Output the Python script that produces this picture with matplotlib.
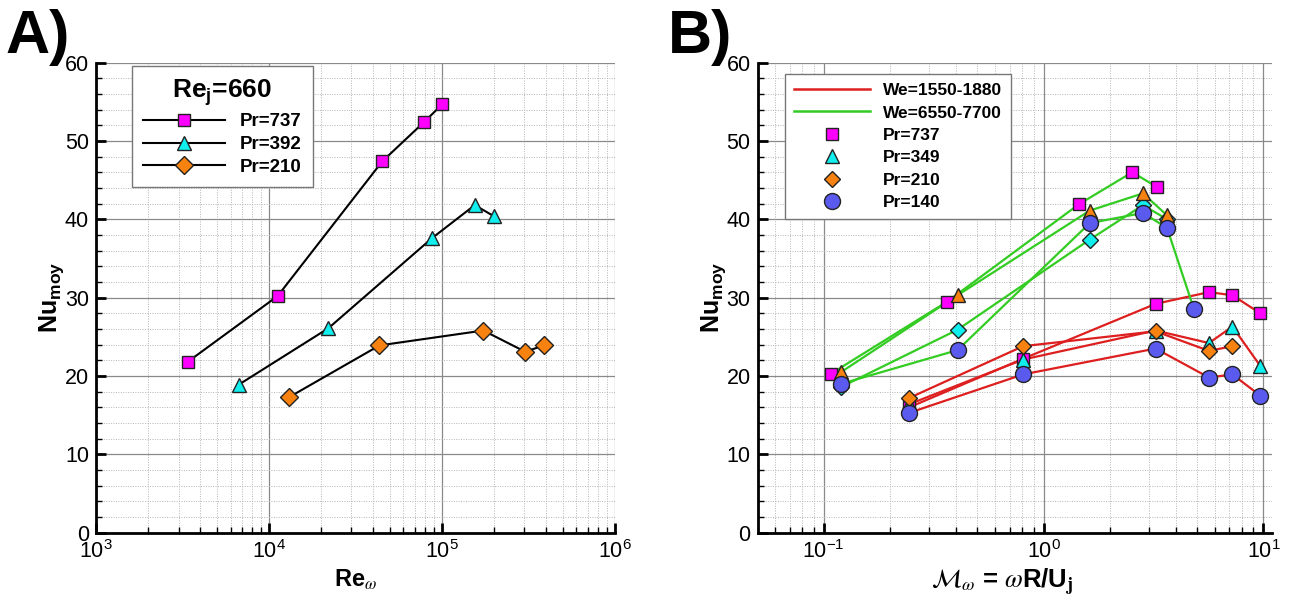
import matplotlib
matplotlib.use("Agg")
import matplotlib.pyplot as plt
from matplotlib.lines import Line2D
from matplotlib.ticker import LogLocator, MultipleLocator, NullFormatter

# ── Panel A: Nu_moy vs Re_omega (Re_j = 660) ─────────────
rew_737 = [3390, 11230, 45300, 78900, 100900]
nu_a737 = [21.8, 30.2, 47.4, 52.4, 54.7]
rew_392 = [6700, 22100, 87900, 155000, 199600]
nu_a392 = [18.9, 26.1, 37.6, 41.8, 40.4]
rew_210 = [13100, 43600, 173800, 303000, 391000]
nu_a210 = [17.3, 23.9, 25.8, 23.1, 23.9]

# ── Panel B: Nu_moy vs M_omega, two Weber ranges ─────────
# We = 1550-1880 (red)
mw_lo_737 = [0.245, 0.807, 3.23, 5.65, 7.22, 9.66]
nu_lo_737 = [16.0, 22.2, 29.2, 30.7, 30.3, 28.0]
mw_lo_349 = [0.245, 0.807, 3.23, 5.65, 7.22, 9.66]
nu_lo_349 = [16.4, 22.1, 25.8, 24.2, 26.3, 21.3]
mw_lo_210 = [0.245, 0.807, 3.23, 5.65, 7.22]
nu_lo_210 = [17.2, 23.8, 25.7, 23.2, 23.8]
mw_lo_140 = [0.245, 0.807, 3.23, 5.65, 7.22, 9.66]
nu_lo_140 = [15.3, 20.2, 23.5, 19.8, 20.2, 17.5]
# We = 6550-7700 (green)
mw_hi_737 = [0.108, 0.365, 1.445, 2.53, 3.28]
nu_hi_737 = [20.3, 29.5, 41.9, 46.0, 44.1]
mw_hi_349 = [0.12, 0.406, 1.62, 2.83, 3.64]
nu_hi_349 = [18.6, 25.9, 37.4, 41.8, 40.0]
mw_hi_210 = [0.12, 0.406, 1.62, 2.83, 3.64]
nu_hi_210 = [20.5, 30.3, 41.1, 43.3, 40.5]
mw_hi_140 = [0.12, 0.406, 1.62, 2.83, 3.64, 4.82]
nu_hi_140 = [19.0, 23.3, 39.5, 40.8, 38.9, 28.6]

MAGENTA = "#FF00FF"
CYAN    = "#10EEEE"
ORANGE  = "#F7820F"
BLUE    = "#5A5AEE"
RED     = "#DD1F1F"
GREEN   = "#33CC22"
EDGE    = "#222222"

plt.rcParams["font.family"] = ["Liberation Sans", "DejaVu Sans"]
plt.rcParams["mathtext.fontset"] = "custom"
plt.rcParams["mathtext.rm"] = "Liberation Sans"
plt.rcParams["mathtext.bf"] = "Liberation Sans:bold"
plt.rcParams["mathtext.it"] = "Liberation Sans:italic"

fig = plt.figure(figsize=(12.89, 5.97), dpi=100)
ax_a = fig.add_axes([0.0745, 0.1077, 0.4024, 0.7876])
ax_b = fig.add_axes([0.5877, 0.1077, 0.3989, 0.7876])


def style_axes(ax):
    ax.set_xscale("log")
    ax.set_ylim(0, 60)
    ax.yaxis.set_major_locator(MultipleLocator(10))
    ax.yaxis.set_minor_locator(MultipleLocator(2))
    ax.xaxis.set_minor_locator(LogLocator(base=10, subs=range(2, 10), numticks=20))
    ax.xaxis.set_minor_formatter(NullFormatter())
    for side in ("top", "right"):
        ax.spines[side].set_visible(False)
    for side in ("left", "bottom"):
        ax.spines[side].set_linewidth(2.0)
    ax.tick_params(which="major", direction="in", length=7, width=2,
                   labelsize=15.5, pad=5, top=False, right=False)
    ax.tick_params(which="minor", direction="in", length=4, width=1,
                   top=False, right=False)
    ax.set_axisbelow(True)
    ax.grid(which="major", color="#8a8a8a", lw=0.9, ls="-")
    ax.grid(which="minor", color="#b5b5b5", lw=0.7, ls=(0, (1, 1.5)))
    ax.set_ylabel(r"Nu$_\mathbf{moy}$", fontsize=18, fontweight="bold", labelpad=-1)


# ── Panel A ──────────────────────────────────────────────
style_axes(ax_a)
ax_a.set_xlim(1e3, 1e6)
mk = dict(color="black", lw=1.5, mec=EDGE, mew=1)
ax_a.plot(rew_737, nu_a737, marker="s", ms=9, mfc=MAGENTA, label="Pr=737", **mk)
ax_a.plot(rew_392, nu_a392, marker="^", ms=10, mfc=CYAN, label="Pr=392", **mk)
ax_a.plot(rew_210, nu_a210, marker="D", ms=9, mfc=ORANGE, label="Pr=210", **mk)
ax_a.set_xlabel(r"Re$_\omega$", fontsize=17, fontweight="bold", labelpad=4,
                math_fontfamily="stix")
leg_a = ax_a.legend(loc="upper left", bbox_to_anchor=(0.0688, 0.993), borderaxespad=0,
                    title=r"Re$_\mathbf{j}$=660",
                    title_fontproperties={"weight": "bold", "size": 19},
                    prop={"weight": "bold", "size": 13.5}, fancybox=False,
                    edgecolor="#777777", framealpha=1, handlelength=4.4,
                    handletextpad=0.75, labelspacing=0.3, borderpad=0.6)
leg_a.get_frame().set_linewidth(1.0)

# ── Panel B ──────────────────────────────────────────────
style_axes(ax_b)
ax_b.set_xlim(0.05, 10.9)

series_b = [
    (mw_lo_737, nu_lo_737, RED,   "s", 8.5, MAGENTA),
    (mw_hi_737, nu_hi_737, GREEN, "s", 8.5, MAGENTA),
    (mw_lo_349, nu_lo_349, RED,   "^", 10,  CYAN),
    (mw_hi_349, nu_hi_349, GREEN, "D", 8,   CYAN),
    (mw_lo_210, nu_lo_210, RED,   "D", 8.5, ORANGE),
    (mw_hi_210, nu_hi_210, GREEN, "^", 10,  ORANGE),
    (mw_lo_140, nu_lo_140, RED,   "o", 11.5, BLUE),
    (mw_hi_140, nu_hi_140, GREEN, "o", 11.5, BLUE),
]
for xs, ys, lc, m, ms, fc in series_b:
    ax_b.plot(xs, ys, color=lc, lw=1.6, zorder=2)
for xs, ys, lc, m, ms, fc in series_b:
    ax_b.plot(xs, ys, ls="none", marker=m, ms=ms, mfc=fc, mec=EDGE, mew=1, zorder=3)

ax_b.set_xlabel(r"$\mathcal{M}_\omega$ = $\omega$R/U$_\mathbf{j}$", fontsize=18.5,
                fontweight="bold", labelpad=3, math_fontfamily="stix")
ax_b.xaxis.label.set_x(0.475)

handles_b = [
    Line2D([], [], color=RED, lw=1.8),
    Line2D([], [], color=GREEN, lw=1.8),
    Line2D([], [], ls="none", marker="s", ms=8.5, mfc=MAGENTA, mec=EDGE),
    Line2D([], [], ls="none", marker="^", ms=10, mfc=CYAN, mec=EDGE),
    Line2D([], [], ls="none", marker="D", ms=8.5, mfc=ORANGE, mec=EDGE),
    Line2D([], [], ls="none", marker="o", ms=11.5, mfc=BLUE, mec=EDGE),
]
labels_b = ["We=1550-1880", "We=6550-7700", "Pr=737", "Pr=349", "Pr=210", "Pr=140"]
leg_b = ax_b.legend(handles_b, labels_b, loc="upper left", bbox_to_anchor=(0.0535, 0.975),
                    borderaxespad=0, prop={"weight": "bold", "size": 12.5}, fancybox=False,
                    edgecolor="#777777", framealpha=1, handlelength=4.4,
                    handletextpad=0.75, labelspacing=0.42, borderpad=0.5)
leg_b.get_frame().set_linewidth(1.0)

# ── Panel letters ────────────────────────────────────────
fig.text(5 / 1289, 1 - 53 / 597, "A)", fontsize=44, fontweight="bold", va="baseline")
fig.text(668 / 1289, 1 - 53 / 597, "B)", fontsize=44, fontweight="bold", va="baseline")

fig.savefig("out.png", dpi=100)
